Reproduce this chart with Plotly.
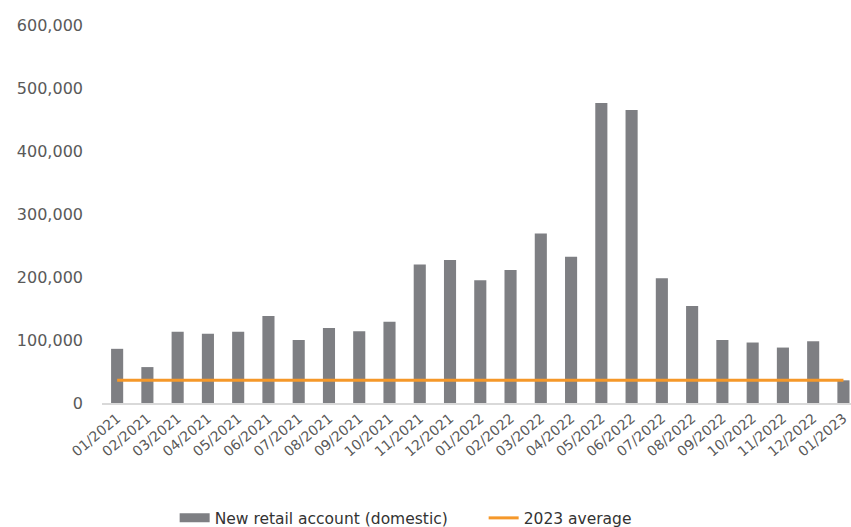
import plotly.graph_objects as go

months = ["01/2021", "02/2021", "03/2021", "04/2021", "05/2021", "06/2021", "07/2021",
          "08/2021", "09/2021", "10/2021", "11/2021", "12/2021", "01/2022", "02/2022",
          "03/2022", "04/2022", "05/2022", "06/2022", "07/2022", "08/2022", "09/2022",
          "10/2022", "11/2022", "12/2022", "01/2023"]
new_accounts = [86000, 57000, 113000, 110000, 113000, 138000, 100000, 119000, 114000,
                129000, 220000, 227000, 195000, 211000, 269000, 232000, 476000, 465000,
                198000, 154000, 100000, 96000, 88000, 98000, 36000]
avg_2023 = 36000
avg_line = [avg_2023] * len(months)

yticks = [0, 100000, 200000, 300000, 400000, 500000, 600000]
ytick_text = ["0", "100,000", "200,000", "300,000", "400,000", "500,000", "600,000"]

font_family = "DejaVu Sans"
txt_color = "#595959"
bar_color = "#7E7F83"
line_color = "#F5982A"

fig = go.Figure()
fig.add_trace(go.Bar(
    x=months, y=new_accounts, name="New retail account (domestic)",
    marker=dict(color=bar_color, line=dict(width=0)), width=0.4,
    showlegend=False, legendgroup="bars",
))
# legend entry proxy (wide swatch like the original)
fig.add_trace(go.Scatter(
    x=[None], y=[None], name="New retail account (domestic)", mode="lines",
    line=dict(color=bar_color, width=9), legendgroup="bars", hoverinfo="skip",
))
fig.add_trace(go.Scatter(
    x=months, y=avg_line, name="2023 average", mode="lines",
    line=dict(color=line_color, width=3),
))

fig.update_layout(
    width=851, height=527,
    margin=dict(l=102, r=0, t=25, b=124, autoexpand=False),
    paper_bgcolor="white", plot_bgcolor="white",
    font=dict(family=font_family, size=16, color=txt_color),
    showlegend=True,
    legend=dict(orientation="h", x=0.097, xanchor="left", y=-0.305, yanchor="middle",
                font=dict(size=15.5, color="#333333"), itemwidth=30,
                entrywidth=264, traceorder="normal"),
    xaxis=dict(
        type="category", range=[-0.5, 24.25], tickangle=-40, automargin=False,
        showline=True, linecolor="#D9D9D9", linewidth=1.5,
        showgrid=False, ticks="", tickfont=dict(size=14, color=txt_color),
    ),
    yaxis=dict(
        range=[0, 600000], tickvals=yticks, ticktext=ytick_text, automargin=False,
        showgrid=False, zeroline=False, showline=False, ticks="",
        ticklabelstandoff=18, tickfont=dict(size=16, color=txt_color),
    ),
    bargap=0.6,
)

fig.write_html("out.html")
